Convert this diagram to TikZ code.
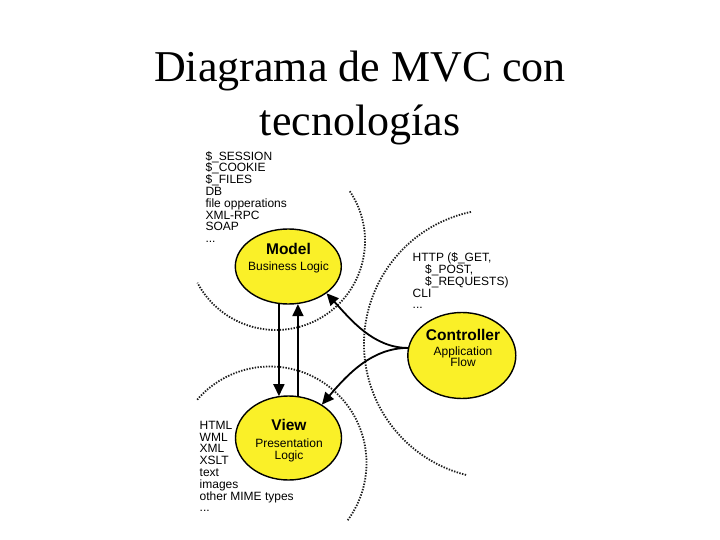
\documentclass[tikz,border=0pt]{standalone}
\usepackage{fontspec}
\setmainfont{Liberation Serif}
\setsansfont{Liberation Sans}
\usetikzlibrary{shapes.geometric,arrows.meta}
\definecolor{mvcyellow}{RGB}{250,240,40}
\definecolor{dotgray}{RGB}{30,30,30}
\begin{document}
\begin{tikzpicture}[x=1pt,y=-1pt,
  bubble/.style={ellipse, draw=black, line width=1.4pt, fill=mvcyellow, inner sep=0pt, minimum width=106pt},
  intext/.style={align=center, font=\sffamily\fontsize{12}{11.8}\selectfont, inner sep=0pt},
  side/.style={align=left, font=\sffamily\fontsize{12}{11.8}\selectfont, inner sep=0pt, anchor=base west},
  arr/.style={line width=1.8pt, -{Triangle[length=12pt,width=11pt]}},
  zone/.style={dotgray, line width=1.8pt, dash pattern=on 1.4pt off 1.4pt},
  titletext/.style={font=\fontsize{44}{53}\selectfont, anchor=base, inner sep=0pt}]

\fill[white] (0,0) rectangle (720,540);
\useasboundingbox (0,0) rectangle (720,540);

% title
\node[titletext] (title1) at (360,82) {Diagrama de MVC con};
\node[titletext] (title2) at (360,135.5) {tecnologías};

% dotted zones
\draw[zone] ([shift={(34:89pt)}]276,241) arc[start angle=34, end angle=-152, radius=89pt];
\draw[zone] ([shift={(139:96.5pt)}]270,463) arc[start angle=139, end angle=-37, radius=96.5pt];
\draw[zone] ([shift={(102:135pt)}]499,344) arc[start angle=102, end angle=256, radius=135pt];

% ellipses
\node[bubble, minimum height=75pt] (model) at (288.3,266.5) {};
\node[bubble, minimum height=84pt] (view) at (288.5,438) {};
\node[bubble, minimum height=86pt, minimum width=108pt] (ctrl) at (461.8,355.5) {};

\node[intext] (modeltext) at (288.5,258.2) {{\fontsize{15.5}{15.5}\selectfont\bfseries Model}\\[4.6pt]Business Logic};
\node[intext] (viewtext) at (289,440.3) {{\fontsize{15.5}{15.5}\selectfont\bfseries View}\\[5.2pt]Presentation\\Logic};
\node[intext] (ctrltext) at (463,348.2) {{\fontsize{15.5}{15.5}\selectfont\bfseries Controller}\\[2.6pt]Application\\Flow};

% technology lists (anchor = baseline of the last line)
\node[side] (modellist) at (205.3,242.6) {\$\_SESSION\\\$\_COOKIE\\\$\_FILES\\DB\\file opperations\\XML-RPC\\SOAP\\...};
\node[side] (ctrllist) at (412.5,308.9) {HTTP (\$\_GET,\\\hspace*{12.5pt}\$\_POST,\\\hspace*{12.5pt}\$\_REQUESTS)\\CLI\\...};
\node[side] (viewlist) at (199.5,511.9) {HTML\\WML\\XML\\XSLT\\text\\images\\other MIME types\\...};

% arrows
\coordinate (upfoot) at ([xshift=0.5pt]view.78);
\draw[arr] (model.256) -- (model.256 |- view.104);
\draw[arr] (upfoot) -- (upfoot |- model.284);
\draw[arr] (ctrl.172) .. controls +(-35,0) and +(23.3,25.3) .. (model.-35);
\draw[arr] (ctrl.172) .. controls +(-35,0) and +(27,-32) .. (view.45);
\end{tikzpicture}
\end{document}
